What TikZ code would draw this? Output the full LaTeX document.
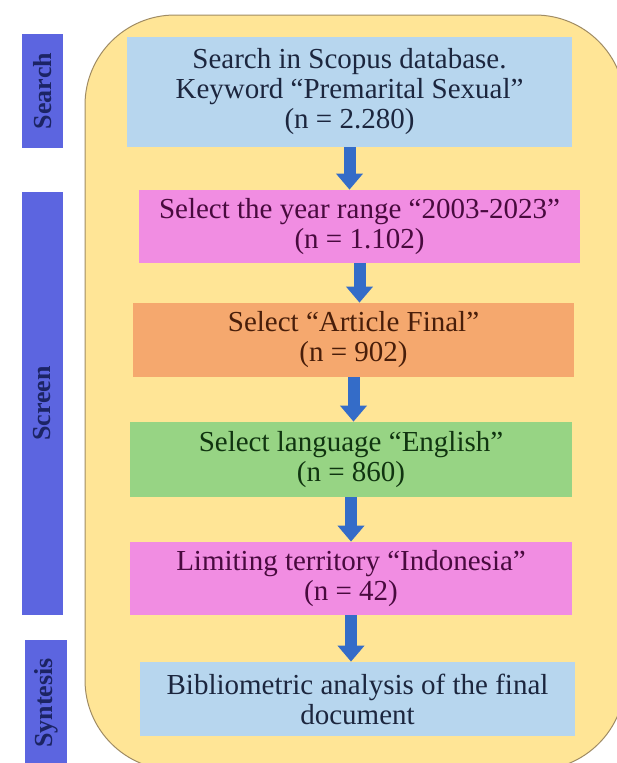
\documentclass[tikz,border=0pt]{standalone}
\usepackage{fontspec}
\setmainfont{Liberation Serif}
\usetikzlibrary{arrows.meta}

\definecolor{panelyellow}{RGB}{255,229,150}
\definecolor{paneledge}{RGB}{160,140,100}
\definecolor{barblue}{RGB}{92,101,224}
\definecolor{barnavy}{RGB}{28,36,100}
\definecolor{boxblue}{RGB}{183,214,238}
\definecolor{boxpink}{RGB}{241,141,226}
\definecolor{boxorange}{RGB}{245,168,110}
\definecolor{boxgreen}{RGB}{151,212,132}
\definecolor{arrowblue}{RGB}{52,108,200}
\definecolor{txtnavy}{RGB}{28,38,62}
\definecolor{txtplum}{RGB}{72,10,62}
\definecolor{txtbrown}{RGB}{72,30,10}
\definecolor{txtgreen}{RGB}{16,52,16}

\tikzset{every picture/.style={line width=0.75pt}}
\tikzset{
  stagebar/.style={fill=barblue, draw=none, inner sep=0pt, rotate=90, text=barnavy,
    font=\bfseries\fontsize{26}{26}\selectfont},
  stepbox/.style={draw=none, inner sep=0pt, align=center,
    font=\fontsize{29}{30}\selectfont},
  flowarrow/.style={draw=arrowblue, line width=12pt, -{Triangle[width=26pt,length=16pt]}}
}

\begin{document}
\begin{tikzpicture}[x=1pt,y=1pt,yscale=-1]
	%set diagram left start at 0, and has height of 763
	\path[use as bounding box, clip] (0,0) rectangle (617,763);
	\fill[white] (0,0) rectangle (617,763);
	
	%Rounded Rect: panel
	\draw[draw=paneledge, fill=panelyellow, line width=1pt, rounded corners=90pt] (85,15) rectangle (625,770);
	
	%Stage bars
	\node[stagebar, minimum width=114pt, minimum height=41pt] (search) at (42.5,91) {Search};
	\node[stagebar, minimum width=423pt, minimum height=41pt] (screen) at (42.5,403.5) {Screen};
	\node[stagebar, minimum width=126pt, minimum height=42pt] (syntesis) at (46,703) {Syntesis};
	
	% Text Node
	\node[stepbox, fill=boxblue, text=txtnavy, minimum width=445pt, minimum height=110pt] (scopus) at (349.5,92)
		{Search in Scopus database.\\Keyword “Premarital Sexual”\\(n = 2.280)};
	% Text Node
	\node[stepbox, fill=boxpink, text=txtplum, minimum width=441pt, minimum height=73pt] (years) at (359.5,226.5)
		{Select the year range “2003-2023”\\(n = 1.102)};
	% Text Node
	\node[stepbox, fill=boxorange, text=txtbrown, minimum width=441pt, minimum height=74pt] (article) at (353.5,340)
		{Select “Article Final"\\(n = 902)};
	% Text Node
	\node[stepbox, fill=boxgreen, text=txtgreen, minimum width=442pt, minimum height=75pt] (language) at (351,459.5)
		{Select language “English”\\(n = 860)};
	% Text Node
	\node[stepbox, fill=boxpink, text=txtplum, minimum width=442pt, minimum height=73pt] (territory) at (351,578.5)
		{Limiting territory “Indonesia"\\(n = 42)};
	% Text Node
	\node[stepbox, fill=boxblue, text=txtnavy, minimum width=435pt, minimum height=74pt] (biblio) at (357.5,699)
		{Bibliometric analysis of the final\\document};
	
	%Straight Lines
	\draw[flowarrow] (scopus.south) -- (scopus.south |- years.north);
	\draw[flowarrow] (years.south) -- (years.south |- article.north);
	\draw[flowarrow] (article.south) -- (article.south |- language.north);
	\draw[flowarrow] (language.south) -- (language.south |- territory.north);
	\draw[flowarrow] (territory.south) -- (territory.south |- biblio.north);
	
\end{tikzpicture}
\end{document}
